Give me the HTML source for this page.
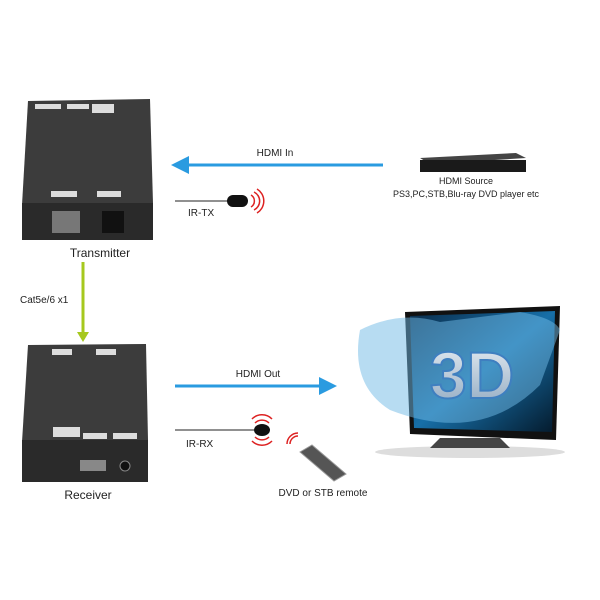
<!DOCTYPE html><html><head><style>body{margin:0;background:#fff}svg{display:block}</style></head><body>
<svg width="600" height="600" viewBox="0 0 600 600" font-family="Liberation Sans, sans-serif">
<defs>
<marker id="ab" markerWidth="6" markerHeight="6" refX="3" refY="3" orient="auto"><path d="M0,0 L6,3 L0,6 Z" fill="#2a9be0"/></marker>
<linearGradient id="sc" x1="0" y1="0" x2="1" y2="1"><stop offset="0" stop-color="#0a2c4a"/><stop offset=".5" stop-color="#176fa8"/><stop offset="1" stop-color="#041a2c"/></linearGradient>
<linearGradient id="td" x1="0" y1="0" x2="0" y2="1"><stop offset="0" stop-color="#e8eef4"/><stop offset="1" stop-color="#8fa8c0"/></linearGradient>
</defs>
<path d="M28,101 L150,99 L153,203 L22,205 Z" fill="#3c3c3c"/>
<rect x="22" y="203" width="131" height="37" fill="#2a2a2a"/>
<rect x="35" y="104" width="26" height="5" fill="#ddd"/><rect x="67" y="104" width="22" height="5" fill="#ddd"/><rect x="92" y="104" width="22" height="9" fill="#ddd"/>
<rect x="51" y="191" width="26" height="6" fill="#ddd"/><rect x="97" y="191" width="24" height="6" fill="#ddd"/>
<rect x="52" y="211" width="28" height="22" fill="#777"/><rect x="102" y="211" width="22" height="22" fill="#111"/>
<text x="100" y="257" font-size="12" text-anchor="middle" fill="#222">Transmitter</text>
<line x1="383" y1="165" x2="180" y2="165" stroke="#2a9be0" stroke-width="3" marker-end="url(#ab)"/>
<text x="275" y="156" font-size="10" text-anchor="middle" fill="#222">HDMI  In</text>
<line x1="175" y1="201" x2="232" y2="201" stroke="#222" stroke-width="1"/>
<rect x="227" y="195" width="21" height="12" rx="6" fill="#111"/>
<path d="M251,195 a7,7 0 0 1 0,12 M254,192 a10,10 0 0 1 0,18 M257,189 a14,14 0 0 1 0,24" fill="none" stroke="#d22" stroke-width="1.5"/>
<text x="188" y="216" font-size="10" fill="#222">IR-TX</text>
<path d="M420,158 L516,153 L526,158 L430,164 Z" fill="#444"/>
<rect x="420" y="160" width="106" height="12" fill="#1a1a1a"/>
<text x="466" y="184" font-size="9" text-anchor="middle" fill="#222">HDMI Source</text>
<text x="466" y="197" font-size="9" text-anchor="middle" fill="#222">PS3,PC,STB,Blu-ray DVD player etc</text>
<line x1="83" y1="262" x2="83" y2="335" stroke="#a6c81e" stroke-width="3"/>
<path d="M77,332 L89,332 L83,342 Z" fill="#a6c81e"/>
<text x="20" y="303" font-size="10" fill="#222">Cat5e/6 x1</text>
<path d="M28,345 L146,344 L148,440 L22,442 Z" fill="#3c3c3c"/>
<rect x="22" y="440" width="126" height="42" fill="#2a2a2a"/>
<rect x="52" y="349" width="20" height="6" fill="#ddd"/><rect x="96" y="349" width="20" height="6" fill="#ddd"/>
<rect x="53" y="427" width="27" height="10" fill="#ddd"/><rect x="83" y="433" width="24" height="6" fill="#ddd"/><rect x="113" y="433" width="24" height="6" fill="#ddd"/>
<rect x="80" y="460" width="26" height="11" fill="#888"/><circle cx="125" cy="466" r="5" fill="#111" stroke="#888"/>
<text x="88" y="499" font-size="12" text-anchor="middle" fill="#222">Receiver</text>
<line x1="175" y1="386" x2="328" y2="386" stroke="#2a9be0" stroke-width="3" marker-end="url(#ab)"/>
<text x="258" y="377" font-size="10" text-anchor="middle" fill="#222">HDMI Out</text>
<line x1="175" y1="430" x2="256" y2="430" stroke="#222" stroke-width="1"/>
<ellipse cx="262" cy="430" rx="8" ry="6" fill="#111"/>
<path d="M255,423 a10,10 0 0 1 14,0 M252,419 a14,14 0 0 1 20,0 M255,437 a10,10 0 0 0 14,0 M252,441 a14,14 0 0 0 20,0" fill="none" stroke="#d22" stroke-width="1.5"/>
<text x="186" y="447" font-size="10" fill="#222">IR-RX</text>
<path d="M300,452 L312,445 L346,474 L334,481 Z" fill="#555" stroke="#999"/>
<path d="M290,444 a8,8 0 0 1 8,-8 M287,444 a11,11 0 0 1 11,-11" fill="none" stroke="#d22" stroke-width="1.5"/>
<text x="323" y="496" font-size="10" text-anchor="middle" fill="#222">DVD or STB remote</text>
<ellipse cx="470" cy="452" rx="95" ry="6" fill="#ddd"/>
<path d="M405,312 L560,306 L556,440 L410,434 Z" fill="#111"/>
<path d="M410,316 L555,311 L552,432 L414,428 Z" fill="url(#sc)"/>
<path d="M440,438 L500,438 L510,448 L430,448 Z" fill="#444"/>
<path d="M360,330 Q400,310 440,322 L520,312 Q555,318 560,330 L540,385 Q480,445 390,410 Q350,385 360,330 Z" fill="#6fb9e6" opacity=".5"/>
<text x="472" y="398" font-size="66" font-weight="bold" text-anchor="middle" fill="url(#td)" stroke="#3f7fc0" stroke-width="2">3D</text>
</svg>
</body></html>
